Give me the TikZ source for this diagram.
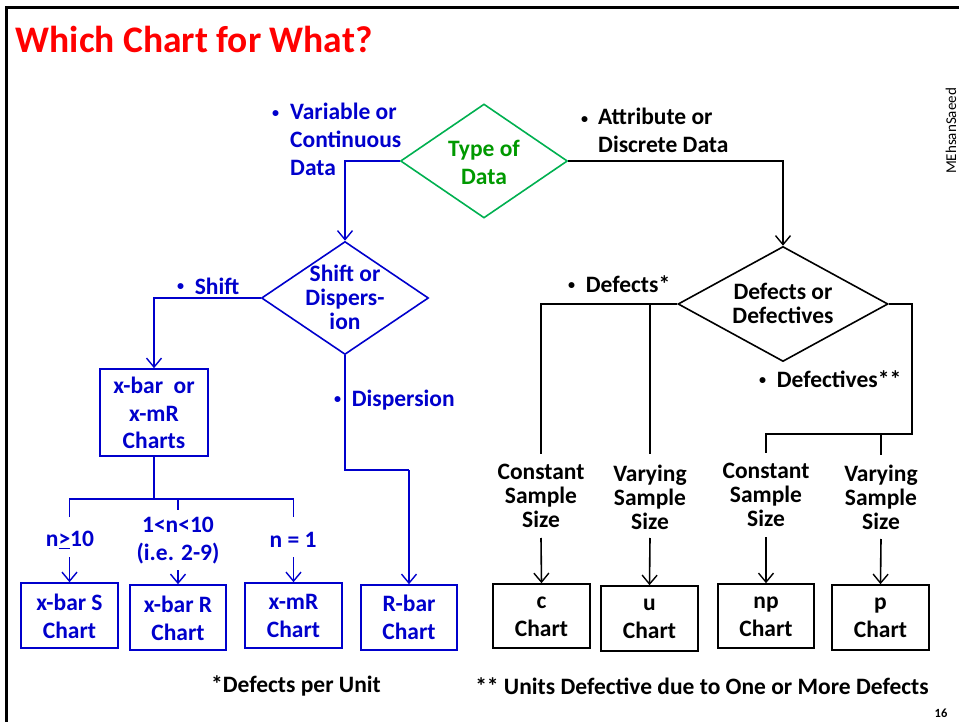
\documentclass[tikz,border=0pt]{standalone}
\usepackage{fontspec}
\setmainfont{Carlito}
\usetikzlibrary{shapes.geometric,arrows.meta}
\definecolor{blu}{RGB}{0,0,204}
\definecolor{grnline}{RGB}{0,176,80}
\definecolor{grntext}{RGB}{0,153,0}
\definecolor{ttl}{RGB}{255,0,0}
\newcommand{\bul}{\raisebox{0.14em}{\scalebox{0.6}{•}}}
\begin{document}
\begin{tikzpicture}[x=1pt,y=-1pt,
  txt/.style={font=\bfseries\fontsize{23.5}{28}\selectfont, inner sep=0pt, align=center},
  tight/.style={font=\bfseries\fontsize{23.5}{24}\selectfont, inner sep=0pt, align=center},
  dia/.style={diamond, draw, line width=1.6pt, inner sep=0pt},
  box/.style={draw, line width=1.6pt, inner sep=0pt},
  ln/.style={line width=1.6pt},
  arr/.style={line width=1.6pt, -{Straight Barb[length=9pt,width=15pt,line width=1.4pt]}}
]
\useasboundingbox (0,0) rectangle (959,722);
% frame
\draw[line width=3.5pt] (6.5,722) -- (6.5,7.5) -- (959,7.5);
% title
\node[anchor=base west, inner sep=0pt, text=ttl, font=\bfseries\fontsize{37.5}{40}\selectfont] (title) at (15.5,53) {Which Chart for What?};
% watermark
\node[rotate=90, inner sep=0pt, font=\fontsize{15}{16}\selectfont] (wm) at (951,131) {MEhsanSaeed};
\node[inner sep=0pt, font=\bfseries\fontsize{12.5}{14}\selectfont] (pg) at (941,713) {16};

% Type of Data
\node[dia, draw=grnline, minimum width=167pt, minimum height=114pt] (td) at (484,161) {};
\node[txt, text=grntext] (tdt) at (484,162) {Type of\\Data};

% variable label
\node[txt, text=blu, anchor=west] (vbul) at (272,116) {\bul};
\node[txt, text=blu, align=left, anchor=west] (vlab) at (290,139) {Variable or\\Continuous\\Data};
% attribute label
\node[txt, anchor=west] (abul) at (581,122) {\bul};
\node[txt, align=left, anchor=west] (alab) at (598,130) {Attribute or\\Discrete Data};

% Shift or Dispersion
\node[dia, draw=blu, minimum width=167pt, minimum height=113pt] (sd) at (345,298) {};
\node[tight, text=blu] (sdt) at (345,297) {Shift or\\Dispers-\\ion};
\draw[arr, blu] (td.west) -| (sd.north);

% Defects or Defectives
\node[dia, minimum width=210pt, minimum height=115pt] (dd) at (783,304) {};
\node[tight] (ddt) at (783,303) {Defects or\\Defectives};
\draw[arr] (td.east) -| (dd.north);

% x-bar or box
\node[box, draw=blu, minimum width=108pt, minimum height=87pt] (xb) at (154,412.5) {};
\node[txt, text=blu, font=\bfseries\fontsize{23.5}{27.5}\selectfont] (xbt) at (154,413) {x-bar\ \ or\\x-mR\\Charts};
\draw[arr, blu] (sd.west) -| (xb.north);
\node[txt, text=blu, anchor=west] (shl) at (177,286) {\bul\ \ Shift};

% dispersion
\coordinate (dj) at (409,470);
\node[box, draw=blu, minimum width=96pt, minimum height=65pt] (rb) at (409,617.5) {};
\node[txt, text=blu] (rbt) at (409,617.5) {R-bar\\Chart};
\draw[ln, blu] (sd.south) |- (dj);
\draw[arr, blu] (dj) -- (rb.north);
\node[txt, text=blu, anchor=west] (dsl) at (334,400) {\bul\hspace{0.45em}Dispersion};

% lower blue branch
\coordinate (xj) at (154,499);
\coordinate (b1) at (69.5,517);
\coordinate (b2) at (178,510);
\coordinate (b3) at (293.5,517);
\draw[ln, blu] (xb.south) -- (xj);
\draw[ln, blu] (b1) -- (b1 |- xj) -- (b3 |- xj) -- (b3);
\draw[ln, blu] (b2 |- xj) -- (b2);

\node[txt, text=blu] (n1) at (70,540) {n\underline{>}10};
\node[txt, text=blu] (n2) at (178,541) {1<n<10\\(i.e. 2-9)};
\node[txt, text=blu] (n3) at (293,540) {n = 1};

\node[box, draw=blu, minimum width=97pt, minimum height=65pt] (xs) at (69.5,615.5) {};
\node[txt, text=blu] (xst) at (69.5,616) {x-bar S\\Chart};
\node[box, draw=blu, minimum width=96pt, minimum height=65pt] (xr) at (178,617.5) {};
\node[txt, text=blu] (xrt) at (178,618) {x-bar R\\Chart};
\node[box, draw=blu, minimum width=97pt, minimum height=65pt] (xm) at (293.5,615.5) {};
\node[txt, text=blu] (xmt) at (293.5,616) {x-mR\\Chart};

\coordinate (a1) at (69.5,557);
\coordinate (a2) at (178,570);
\coordinate (a3) at (293.5,557);
\draw[arr, blu] (a1) -- (xs.north);
\draw[arr, blu] (a2) -- (xr.north);
\draw[arr, blu] (a3) -- (xm.north);

% right branch
\node[txt, anchor=west] (dfl) at (568,284) {\bul\ \ Defects*};
\node[txt, anchor=west] (dvl) at (759,379) {\bul\ \ Defectives**};
\coordinate (c1) at (541,454);
\coordinate (c2) at (650,454);
\coordinate (c3) at (766,453);
\coordinate (c4) at (881,455);
\coordinate (rj) at (912,434);
\draw[ln] (dd.west) -| (c1);
\draw[ln] (dd.west -| c2) -- (c2);
\draw[ln] (dd.east) -| (rj) -| (c3);
\draw[ln] (rj -| c4) -- (c4);

\node[tight] (s1) at (541,496) {Constant\\Sample\\Size};
\node[tight] (s2) at (650,497) {Varying\\Sample\\Size};
\node[tight] (s3) at (766,495) {Constant\\Sample\\Size};
\node[tight] (s4) at (881,497) {Varying\\Sample\\Size};

\node[box, minimum width=97pt, minimum height=64pt] (cc) at (541.5,616) {};
\node[txt] (cct) at (541.5,617) {c\\Chart};
\node[box, minimum width=97pt, minimum height=65pt] (uc) at (649.5,618.5) {};
\node[txt] (uct) at (649.5,619) {u\\Chart};
\node[box, minimum width=96pt, minimum height=64pt] (npc) at (766,616) {};
\node[txt] (npct) at (766,617) {np\\Chart};
\node[box, minimum width=97pt, minimum height=65pt] (pc) at (880.5,617.5) {};
\node[txt] (pct) at (880.5,618) {p\\Chart};

\coordinate (d1) at (541,538);
\coordinate (d2) at (650,538);
\coordinate (d3) at (766,537);
\coordinate (d4) at (881,539);
\draw[arr] (d1) -- (cc.north);
\draw[arr] (d2) -- (uc.north);
\draw[arr] (d3) -- (npc.north);
\draw[arr] (d4) -- (pc.north);

% footers
\node[txt] (f1) at (296,686) {*Defects per Unit};
\node[txt] (f2) at (702,686) {** Units Defective due to One or More Defects};
\end{tikzpicture}
\end{document}
